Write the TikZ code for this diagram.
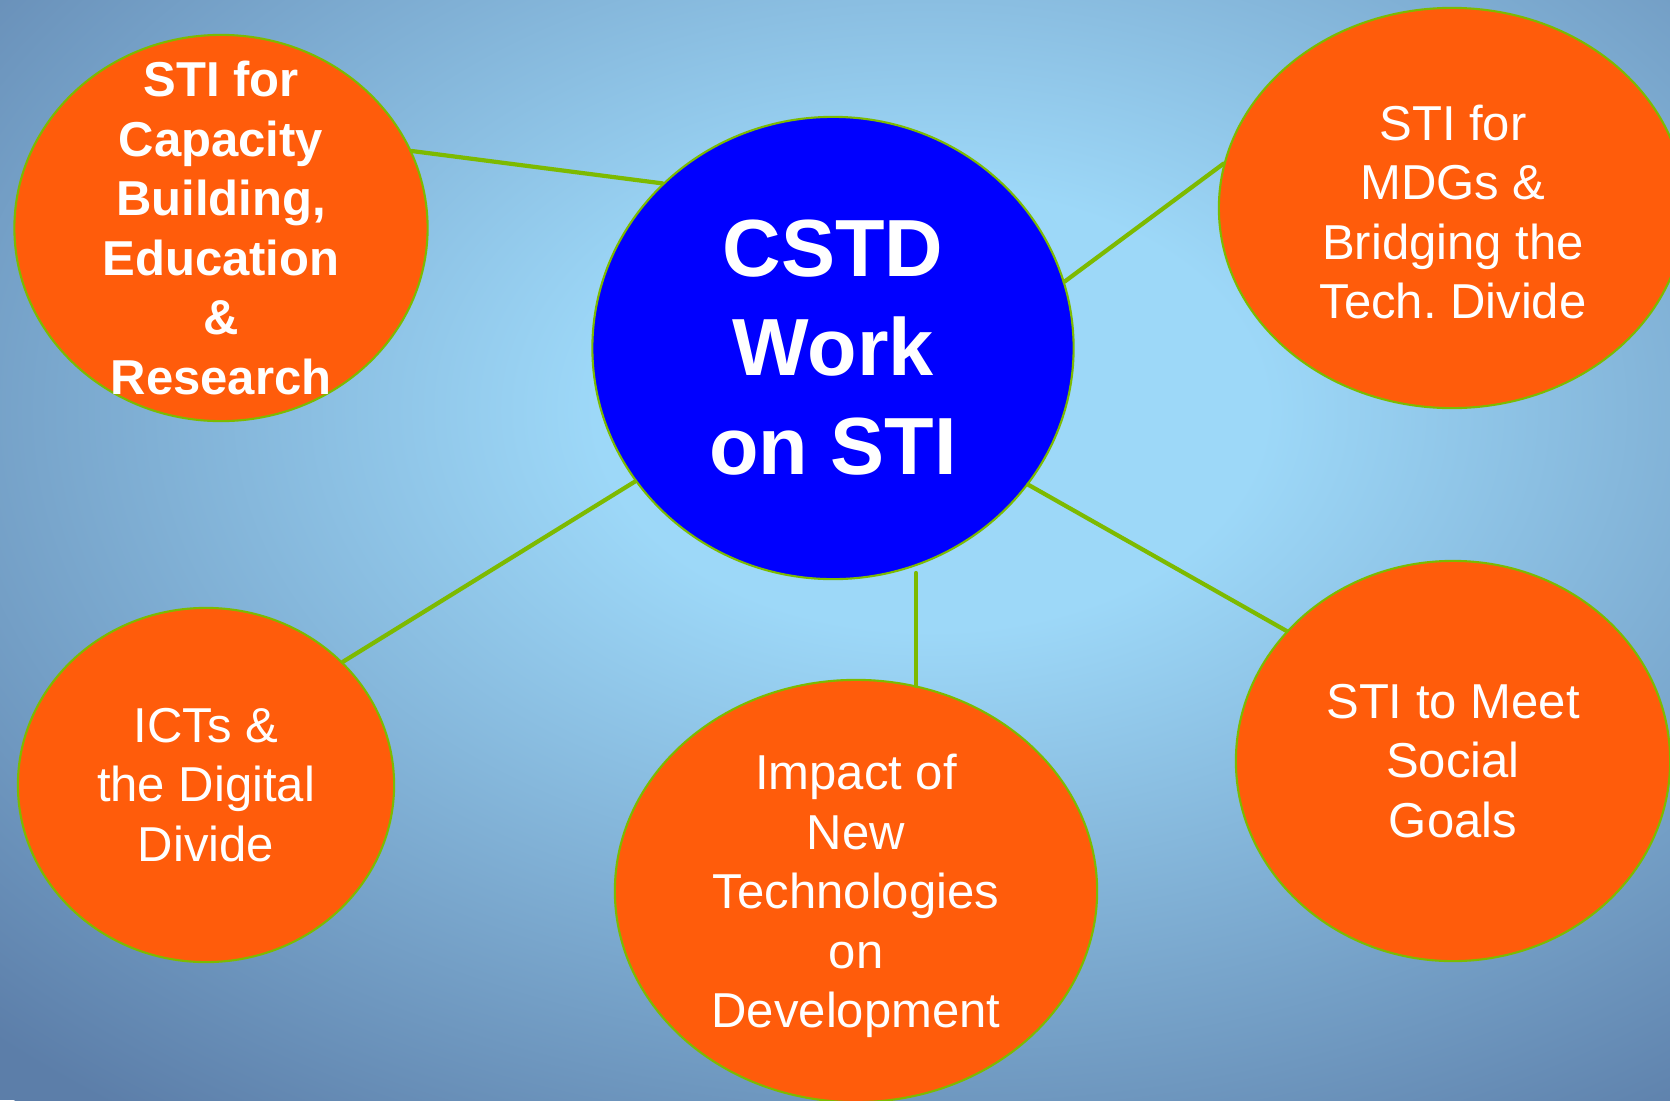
\documentclass[tikz,border=0pt]{standalone}
\usepackage{fontspec}
\setmainfont{Liberation Sans}
\usetikzlibrary{shapes.geometric}

\definecolor{bglight}{HTML}{9DD8F8}
\definecolor{bgdark}{HTML}{5C7EA9}
\definecolor{topicorange}{HTML}{FF5C0B}
\definecolor{hubblue}{HTML}{0000FF}
\definecolor{linkgreen}{HTML}{7DBA00}

\pgfdeclareradialshading{backdrop}{\pgfpointorigin}{color(0bp)=(bglight); color(6bp)=(bglight); color(24bp)=(bgdark); color(50bp)=(bgdark)}

\begin{document}
\begin{tikzpicture}[x=0.01cm, y=-0.01cm, line cap=round, line join=round]
\tikzset{
    bubble/.style={ellipse, draw=linkgreen, line width=0.6pt, fill=topicorange, inner sep=0pt},
    hubbubble/.style={bubble, fill=hubblue},
    topic/.style={text=white, align=center, font=\fontsize{13.94}{16.93}\selectfont},
    topicbold/.style={topic, font=\fontsize{13.94}{16.93}\selectfont\bfseries},
    hubtext/.style={topic, font=\fontsize{23.05}{28.17}\selectfont\bfseries},
    link/.style={draw=linkgreen, line width=1.2pt}
}
\useasboundingbox (0,0) rectangle (1670,1100);
\fill[bgdark] (0,0) rectangle (1670,1100);
\begin{scope}
\clip (0,0) rectangle (1670,1100);
\shade[shading=backdrop] (930,410) ellipse [x radius=1393, y radius=916];
\end{scope}

% bubbles
\node[hubbubble, minimum width=4.81cm, minimum height=4.62cm] (hub) at (833,348) {};
\node[bubble, minimum width=4.13cm, minimum height=3.86cm] (cap) at (221,228) {};
\node[bubble, minimum width=4.66cm, minimum height=4.00cm] (mdg) at (1452,208) {};
\node[bubble, minimum width=3.76cm, minimum height=3.54cm] (ict) at (206,785) {};
\node[bubble, minimum width=4.82cm, minimum height=4.22cm] (imp) at (856,891) {};
\node[bubble, minimum width=4.34cm, minimum height=4.00cm] (soc) at (1453,761) {};

% spokes
\coordinate (stem) at (916,573);
\draw[link] (hub.136.5) -- (cap.22.2);
\draw[link] (hub.16.8) -- (mdg.169.9);
\draw[link] (hub.214.6) -- (ict.42.6);
\draw[link] (hub.325.1) -- (soc.142.7);
\draw[link] (stem) -- (stem |- imp.73.6);

% texts
\node[hubtext] (hubtxt) at (hub.center) {CSTD\\Work\\on STI};
\node[topicbold] (captxt) at (cap.center) {STI for\\Capacity\\Building,\\Education\\\&\\Research};
\node[topic] (mdgtxt) at (1453,212) {STI for\\MDGs \&\\Bridging the\\Tech.\ Divide};
\node[topic] (icttxt) at (ict.center) {ICTs \&\\the Digital\\Divide};
\node[topic] (imptxt) at (856,896) {Impact of\\New\\Technologies\\on\\Development};
\node[topic] (soctxt) at (soc.center) {STI to Meet\\Social\\Goals};
\end{tikzpicture}
\end{document}
